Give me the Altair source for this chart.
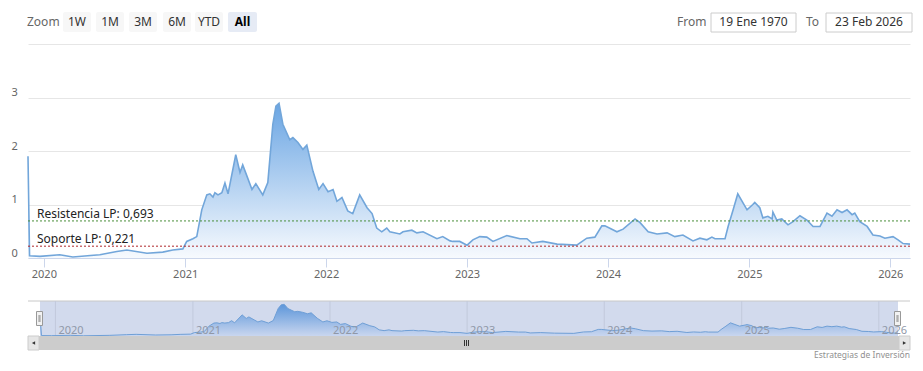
import altair as alt
import pandas as pd

# ---------------- data ----------------
dates = [
    "2019-11-21", "2019-11-25", "2019-12-22", "2020-02-11", "2020-03-16", "2020-05-25",
    "2020-07-08", "2020-08-03", "2020-09-24", "2020-11-04", "2020-11-30", "2020-12-26",
    "2021-01-05", "2021-01-21", "2021-01-31", "2021-02-13", "2021-02-26", "2021-03-06",
    "2021-03-14", "2021-03-19", "2021-03-27", "2021-04-06", "2021-04-14", "2021-04-22",
    "2021-05-12", "2021-05-23", "2021-05-30", "2021-06-10", "2021-06-23", "2021-07-03",
    "2021-07-21", "2021-08-03", "2021-08-16", "2021-08-24", "2021-09-01", "2021-09-11",
    "2021-09-29", "2021-10-07", "2021-10-20", "2021-11-02", "2021-11-12", "2021-11-28",
    "2021-12-13", "2021-12-24", "2022-01-06", "2022-01-19", "2022-01-29", "2022-02-11",
    "2022-02-26", "2022-03-11", "2022-03-29", "2022-04-17", "2022-04-30", "2022-05-12",
    "2022-05-25", "2022-06-07", "2022-06-15", "2022-07-11", "2022-07-19", "2022-08-11",
    "2022-08-24", "2022-09-09", "2022-10-15", "2022-10-30", "2022-11-18", "2022-11-25",
    "2022-12-13", "2023-01-01", "2023-01-16", "2023-02-03", "2023-02-21", "2023-03-09",
    "2023-04-14", "2023-05-18", "2023-06-05", "2023-06-18", "2023-07-16", "2023-08-22",
    "2023-10-12", "2023-11-07", "2023-11-28", "2023-12-16", "2023-12-24", "2024-01-24",
    "2024-02-09", "2024-03-11", "2024-03-24", "2024-04-14", "2024-05-07", "2024-06-02",
    "2024-06-22", "2024-07-13", "2024-08-08", "2024-08-26", "2024-09-13", "2024-09-26",
    "2024-10-04", "2024-10-30", "2024-11-07", "2024-11-20", "2024-12-02", "2024-12-26",
    "2025-01-10", "2025-01-15", "2025-01-28", "2025-02-05", "2025-02-18", "2025-03-01",
    "2025-03-03", "2025-03-13", "2025-03-26", "2025-04-11", "2025-04-24", "2025-05-12",
    "2025-05-30", "2025-06-15", "2025-07-03", "2025-07-21", "2025-08-03", "2025-08-16",
    "2025-08-29", "2025-09-11", "2025-09-24", "2025-10-01", "2025-10-14", "2025-11-02",
    "2025-11-17", "2025-12-05", "2025-12-18", "2026-01-08", "2026-01-21", "2026-02-03",
    "2026-02-21",
]
values = [
    1.90, 0.04, 0.03, 0.06, 0.02, 0.06,
    0.12, 0.15, 0.09, 0.11, 0.15, 0.17,
    0.31, 0.36, 0.40, 0.90, 1.18, 1.20,
    1.14, 1.22, 1.18, 1.22, 1.40, 1.20,
    1.93, 1.60, 1.74, 1.53, 1.28, 1.39,
    1.18, 1.41, 2.50, 2.84, 2.89, 2.50,
    2.21, 2.25, 2.16, 2.03, 2.11, 1.62,
    1.28, 1.39, 1.24, 1.28, 1.06, 1.13,
    0.88, 0.83, 1.18, 0.94, 0.83, 0.56,
    0.49, 0.56, 0.49, 0.45, 0.49, 0.52,
    0.47, 0.49, 0.36, 0.40, 0.32, 0.31,
    0.31, 0.24, 0.34, 0.40, 0.39, 0.31,
    0.42, 0.36, 0.36, 0.28, 0.31, 0.26,
    0.24, 0.37, 0.39, 0.60, 0.60, 0.49,
    0.54, 0.73, 0.66, 0.49, 0.45, 0.47,
    0.40, 0.43, 0.32, 0.37, 0.34, 0.39,
    0.36, 0.36, 0.59, 0.90, 1.20, 0.90,
    1.00, 1.04, 0.94, 0.75, 0.78, 0.73,
    0.86, 0.71, 0.73, 0.62, 0.68, 0.79,
    0.71, 0.59, 0.59, 0.84, 0.78, 0.90,
    0.85, 0.90, 0.81, 0.84, 0.68, 0.59,
    0.43, 0.41, 0.37, 0.40, 0.34, 0.27,
    0.26,
]
years = [2020, 2021, 2022, 2023, 2024, 2025, 2026]
y_ticks = [0, 1, 2, 3, 4]
level_names = ["Resistencia LP", "Soporte LP"]
level_values = [0.693, 0.221]
level_colors = ["#4a8f3a", "#b0262a"]
zoom_buttons = ["1W", "1M", "3M", "6M", "YTD", "All"]
selected_button = "All"
from_text = "19 Ene 1970"
to_text = "23 Feb 2026"
credit_text = "Estrategias de Inversión"

# ---------------- layout constants ----------------
W, H = 882, 214
FONT = "Noto Sans"
LINE_COLOR = "#72a6da"

df = pd.DataFrame({"date": dates, "value": values})
years_df = pd.DataFrame({"date": [f"{y}-01-01" for y in years], "label": [str(y) for y in years]})
levels_df = pd.DataFrame({
    "value": level_values,
    "label": [f"{n}: {v:.3f}".replace(".", ",") for n, v in zip(level_names, level_values)],
    "color": level_colors,
})
one = pd.DataFrame({"k": [0]})

# ---------------- main chart ----------------
x_main = alt.X(
    "date:T",
    title=None,
    scale=alt.Scale(type="utc", nice=False, padding=0),
    axis=alt.Axis(
        values=[alt.DateTime(year=y, month=1, date=1, utc=True) for y in years],
        format="%Y",
        labelColor="#666666",
        labelFontSize=11,
        labelFont=FONT,
        labelPadding=1,
        tickColor="#ccd6eb",
        tickSize=9,
        domain=True,
        domainColor="#ccd6eb",
        grid=False,
        title=None,
    ),
)
y_main = alt.Y(
    "value:Q",
    title=None,
    scale=alt.Scale(domain=[0, 4], nice=False),
    axis=alt.Axis(
        values=y_ticks,
        format="d",
        labelExpr="datum.value == 4 ? '' : datum.label",
        grid=True,
        gridColor="#e6e6e6",
        domain=False,
        ticks=False,
        tickSize=0,
        labelAlign="left",
        labelPadding=17,
        labelBaseline="bottom",
        labelColor="#666666",
        labelFontSize=11,
        labelFont=FONT,
        title=None,
    ),
)

area = alt.Chart(df).mark_area(
    color=alt.Gradient(
        gradient="linear",
        stops=[
            alt.GradientStop(color="#6aa5e3", offset=0),
            alt.GradientStop(color="#f7fafe", offset=1),
        ],
        x1=1, x2=1, y1=0, y2=1,
    )
).encode(x=x_main, y=y_main)

line = alt.Chart(df).mark_line(color=LINE_COLOR, strokeWidth=1.6).encode(x=x_main, y=y_main)

level_rules = alt.Chart(levels_df).mark_rule(strokeDash=[2, 2], strokeWidth=1).encode(
    y=y_main, color=alt.Color("color:N", scale=None)
)
level_text = alt.Chart(levels_df).mark_text(
    align="left", baseline="alphabetic", dy=-3, fontSize=12, font=FONT, color="#222222"
).encode(x=alt.value(9), y=y_main, text="label:N")

main = alt.layer(area, line, level_rules, level_text)

# ---------------- navigator ----------------
NAV_TOP, NAV_BOT = 257, 292
nav_x = alt.X("date:T", title=None, scale=alt.Scale(type="utc", nice=False, padding=0, range=[12, 870]), axis=None)
nav_y = alt.Y("value:Q", title=None, scale=alt.Scale(domain=[0, 3.1], nice=False, range=[NAV_BOT, NAV_TOP + 1]), axis=None)

nav_grid = alt.Chart(years_df).mark_rule(color="#c2c9dc", strokeWidth=1).encode(
    x=nav_x, y=alt.value(NAV_TOP), y2=alt.value(NAV_BOT)
)
nav_area = alt.Chart(df).mark_area(
    color=alt.Gradient(
        gradient="linear",
        stops=[
            alt.GradientStop(color="#5c96da", offset=0),
            alt.GradientStop(color="#c9d6ef", offset=1),
        ],
        x1=1, x2=1, y1=0, y2=1,
    )
).encode(x=nav_x, y=nav_y)
nav_line = alt.Chart(df).mark_line(color="#6f9fd6", strokeWidth=1).encode(x=nav_x, y=nav_y)
nav_labels = alt.Chart(years_df).mark_text(
    align="left", baseline="alphabetic", dx=3, fontSize=11, font=FONT, color="#9098a8"
).encode(x=nav_x, y=alt.value(290), text="label:N")

nav = alt.layer(nav_grid, nav_area, nav_line, nav_labels)

# ---------------- decorations ----------------
under = []
over = []


def rect(lst, x0, x1, y0, y1, fill, stroke=None, r=0):
    kw = dict(fill=fill, cornerRadius=r)
    if stroke:
        kw["stroke"] = stroke
        kw["strokeWidth"] = 1
    lst.append(alt.Chart(one).mark_rect(**kw).encode(
        x=alt.value(x0), x2=alt.value(x1), y=alt.value(y0), y2=alt.value(y1)))


def vline(lst, x, y0, y1, color):
    lst.append(alt.Chart(one).mark_rule(color=color, strokeWidth=1).encode(
        x=alt.value(x), y=alt.value(y0), y2=alt.value(y1)))


def label(lst, x, y, s, align="center", size=12, color="#333333", weight="normal", baseline="middle"):
    lst.append(alt.Chart(one).mark_text(
        align=align, baseline=baseline, fontSize=size, font=FONT, color=color, fontWeight=weight
    ).encode(x=alt.value(x), y=alt.value(y), text=alt.value(s)))


# navigator mask + outline
rect(under, 12, 870, NAV_TOP, NAV_BOT, "#d2daed")
under.append(alt.Chart(one).mark_rule(color="#c8c8c8", strokeWidth=1).encode(
    x=alt.value(0), x2=alt.value(W), y=alt.value(NAV_TOP)))

# scrollbar
rect(over, 0, W, 292, 306, "#f2f2f2")
rect(over, 11, 871, 292, 306, "#cccccc")
rect(over, 0, 11, 292, 306, "#e6e6e6", "#cccccc")
rect(over, 871, W, 292, 306, "#e6e6e6", "#cccccc")
over.append(alt.Chart(one).mark_point(shape="triangle-left", filled=True, size=14, color="#333333", opacity=1).encode(
    x=alt.value(5.5), y=alt.value(299)))
over.append(alt.Chart(one).mark_point(shape="triangle-right", filled=True, size=14, color="#333333", opacity=1).encode(
    x=alt.value(876.5), y=alt.value(299)))
for gx in (436.5, 438.5, 440.5):
    vline(over, gx, 296, 302, "#333333")

# navigator handles
for hx in (8.5, 866.5):
    rect(over, hx, hx + 6, 267.5, 281.5, "#f2f2f2", "#999999")
    vline(over, hx + 2.5, 271, 278, "#999999")
    vline(over, hx + 3.5, 271, 278, "#999999")

# header: zoom buttons
label(over, -1, -22, "Zoom", align="left", color="#666666")
btn_x = [35, 68, 101, 135, 167, 200]
btn_w = [28, 28, 28, 28, 28, 29]
for bx, bw, name in zip(btn_x, btn_w, zoom_buttons):
    sel = name == selected_button
    rect(over, bx, bx + bw, -32, -12, "#e6ebf5" if sel else "#f7f7f7", r=2)
    label(over, bx + bw / 2, -22, name, color="#000000" if sel else "#333333", weight="bold" if sel else "normal")

# header: date range inputs
label(over, 649, -22, "From", align="left", color="#666666")
rect(over, 683, 768, -31, -12, "#ffffff", "#cccccc")
label(over, 725.5, -22, from_text)
label(over, 778, -22, "To", align="left", color="#666666")
rect(over, 798, 884, -31, -12, "#ffffff", "#cccccc")
label(over, 841, -22, to_text)

# credits
label(over, W, 314, credit_text, align="right", size=8.5, color="#909090", baseline="alphabetic")

chart = alt.layer(main, *under, nav, *over).resolve_scale(
    x="independent", y="independent"
).properties(
    width=W,
    height=H,
    background="white",
    autosize=alt.AutoSizeParams(type="none"),
    padding={"left": 20, "top": 36, "right": 5, "bottom": 105},
).configure_view(strokeWidth=0, strokeOpacity=0).configure_axisY(
    domain=False, ticks=False
)

chart.save("out.html", embed_options={"renderer": "svg", "actions": False})
